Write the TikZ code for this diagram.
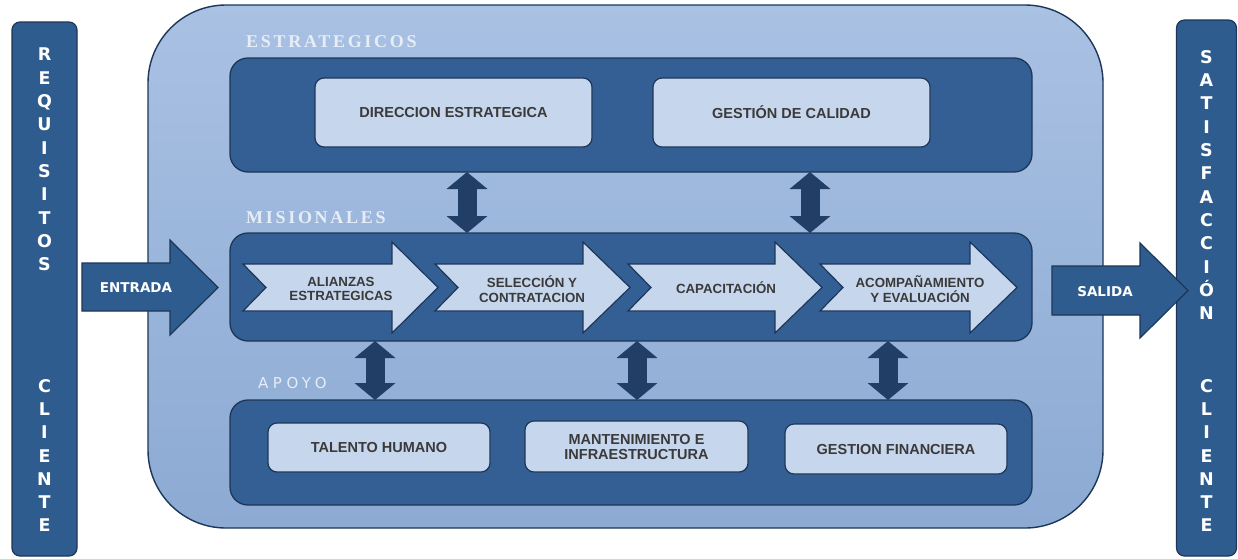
\documentclass[tikz,border=0pt]{standalone}
\usepackage{fontspec}
\setmainfont{Liberation Sans}
\newfontfamily\hdrfont{Liberation Serif}[LetterSpace=15]
\newfontfamily\apoyofont{DejaVu Sans}[LetterSpace=30]
\newfontfamily\heavyfont{DejaVu Sans}
\usetikzlibrary{arrows.meta,calc}
\definecolor{outerTop}{HTML}{A9C1E3}
\definecolor{outerBot}{HTML}{8CAAD3}
\definecolor{panelC}{HTML}{335F94}
\definecolor{barC}{HTML}{2F5C8E}
\definecolor{boxC}{HTML}{C6D6EC}
\definecolor{lineC}{HTML}{1D3658}
\definecolor{dblC}{HTML}{213F66}
\definecolor{txtC}{HTML}{3A3A3A}
\definecolor{hdrC}{HTML}{E6EDF7}
\tikzset{
  sidebar/.style={fill=barC, draw=lineC, line width=1.2pt, rounded corners=8pt, inner sep=0pt, outer sep=0pt},
  outerbox/.style={top color=outerTop, bottom color=outerBot, draw=lineC, line width=1.4pt, rounded corners=78pt, inner sep=0pt, outer sep=0pt},
  panel/.style={fill=panelC, draw=lineC, line width=1.3pt, rounded corners=18pt, inner sep=0pt, outer sep=0pt},
  procbox/.style={fill=boxC, draw=lineC, line width=1.2pt, rounded corners=9pt, inner sep=0pt, outer sep=0pt, align=center, text=txtC, font=\fontsize{14.5}{15}\selectfont\bfseries},
  chev/.style={fill=boxC, draw=lineC, line width=1.2pt, line join=miter},
  chevtxt/.style={align=center, text=txtC, font=\fontsize{13.3}{14.5}\selectfont\bfseries, inner sep=0pt},
  bigarrow/.style={fill=barC, draw=lineC, line width=1.2pt, line join=miter},
  arrowtxt/.style={text=white, font=\heavyfont\fontsize{13.5}{16}\selectfont\bfseries, inner sep=0pt},
  vletters/.style={text=white, align=center, inner sep=0pt, font=\heavyfont\fontsize{17.5}{23.3}\selectfont\bfseries},
  hdr/.style={text=hdrC, anchor=west, inner sep=0pt, font=\hdrfont\fontsize{18}{20}\selectfont\bfseries},
  dbl/.style={draw=dblC, line width=19pt, {Triangle[width=40pt,length=17pt]}-{Triangle[width=40pt,length=17pt]}},
}
\begin{document}
\begin{tikzpicture}[x=1pt,y=-1pt]
\useasboundingbox[fill=white] (0,0) rectangle (1238,558);
% side bars
\node[sidebar, minimum width=65pt, minimum height=534pt] (lbar) at (44.5,289) {};
\node[sidebar, minimum width=60pt, minimum height=536pt] (rbar) at (1206.5,288) {};
\node[vletters] (req) at (44.5,159.5) {R\\E\\Q\\U\\I\\S\\I\\T\\O\\S};
\node[vletters] (cli1) at (44.5,455.5) {C\\L\\I\\E\\N\\T\\E};
\node[vletters] (sat) at (1206.5,185) {S\\A\\T\\I\\S\\F\\A\\C\\C\\I\\Ó\\N};
\node[vletters] (cli2) at (1206.5,455.5) {C\\L\\I\\E\\N\\T\\E};
% outer container
\node[outerbox, minimum width=955pt, minimum height=523pt] (outer) at (625.5,266.5) {};
% headers
\node[hdr] (hest) at (246,42) {ESTRATEGICOS};
\node[hdr] (hmis) at (246,218) {MISIONALES};
\node[hdr, font=\apoyofont\fontsize{15}{17}\selectfont] (hapo) at (258,383) {APOYO};
% panels
\node[panel, minimum width=802pt, minimum height=114pt] (est) at (631,115) {};
\node[panel, minimum width=802pt, minimum height=108pt] (mis) at (631,287) {};
\node[panel, minimum width=802pt, minimum height=105pt] (apo) at (631,452.5) {};
% strategic boxes
\node[procbox, minimum width=277pt, minimum height=69pt] (dir) at (453.5,112.5) {DIRECCION ESTRATEGICA};
\node[procbox, minimum width=277pt, minimum height=69pt] (cal) at (791.5,112.5) {GESTIÓN DE CALIDAD};
% support boxes
\node[procbox, minimum width=222pt, minimum height=49pt] (tal) at (379,447.5) {TALENTO HUMANO};
\node[procbox, minimum width=223pt, minimum height=51pt] (man) at (636.5,446.5) {MANTENIMIENTO E\\INFRAESTRUCTURA};
\node[procbox, minimum width=222pt, minimum height=50pt] (fin) at (896,449) {GESTION FINANCIERA};
% mission chevrons
\draw[chev] (243,264) -- (392,264) -- (392,242) -- (438,287.5) -- (392,333) -- (392,311) -- (243,311) -- (266,287.5) -- cycle;
\draw[chev] (435,264) -- (583,264) -- (583,242) -- (630,287.5) -- (583,333) -- (583,311) -- (435,311) -- (458,287.5) -- cycle;
\draw[chev] (628,264) -- (775,264) -- (775,242) -- (822,287.5) -- (775,333) -- (775,311) -- (628,311) -- (651,287.5) -- cycle;
\draw[chev] (820,264) -- (970,264) -- (970,242) -- (1017,287.5) -- (970,333) -- (970,311) -- (820,311) -- (843,287.5) -- cycle;
\node[chevtxt] (ali) at (341,289) {ALIANZAS\\ESTRATEGICAS};
\node[chevtxt] (sel) at (532,289) {SELECCIÓN Y\\CONTRATACION};
\node[chevtxt] (capa) at (726,288) {CAPACITACIÓN};
\node[chevtxt] (aco) at (920,289) {ACOMPAÑAMIENTO\\Y EVALUACIÓN};
% entrada / salida
\draw[bigarrow] (82,263) -- (170,263) -- (170,240) -- (218,287.5) -- (170,335) -- (170,311) -- (82,311) -- cycle;
\draw[bigarrow] (1052,266) -- (1140,266) -- (1140,243) -- (1188,290.5) -- (1140,338) -- (1140,315) -- (1052,315) -- cycle;
\node[arrowtxt] (ent) at (136,288) {ENTRADA};
\node[arrowtxt] (sal) at (1105,292) {SALIDA};
% double arrows
\coordinate (xa) at (467,0);
\coordinate (xb) at (810,0);
\coordinate (xc) at (375,0);
\coordinate (xd) at (637,0);
\coordinate (xe) at (888,0);
\draw[dbl] (xa |- est.south) -- (xa |- mis.north);
\draw[dbl] (xb |- est.south) -- (xb |- mis.north);
\draw[dbl] (xc |- mis.south) -- (xc |- apo.north);
\draw[dbl] (xd |- mis.south) -- (xd |- apo.north);
\draw[dbl] (xe |- mis.south) -- (xe |- apo.north);
\end{tikzpicture}
\end{document}
